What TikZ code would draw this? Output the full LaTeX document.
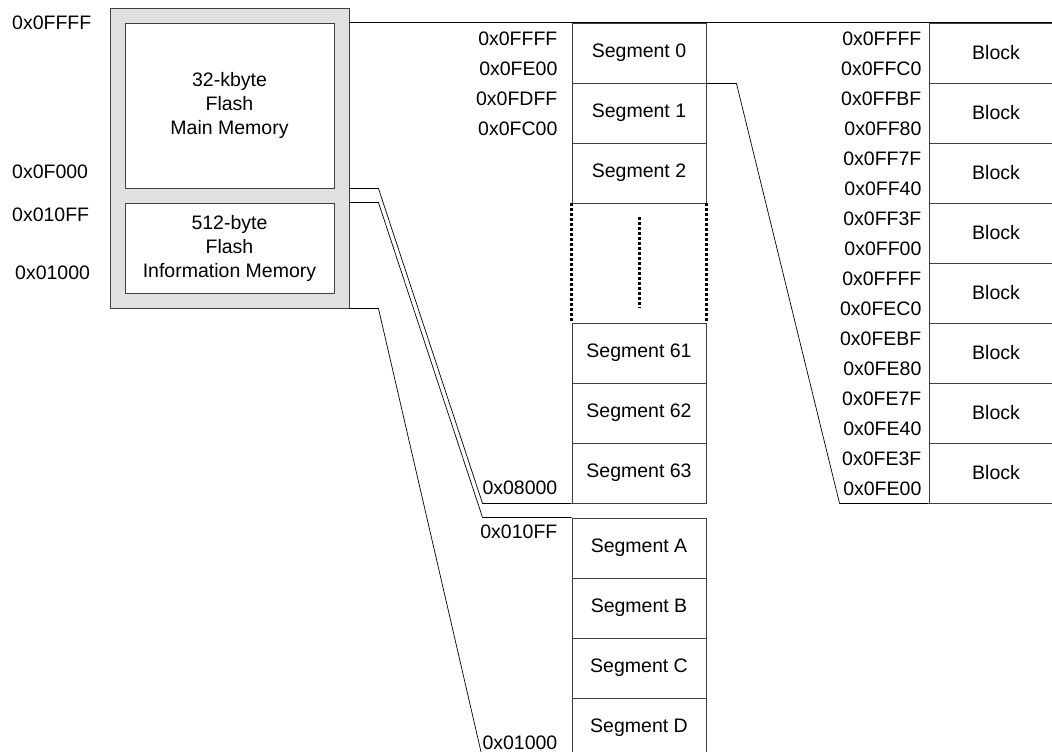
\documentclass[tikz,border=0pt]{standalone}
\usepackage{fontspec}
\setmainfont{Liberation Sans}
\usepackage{tikz}
\tikzset{
  memcell/.style={draw=black!75,line width=0.9pt,minimum width=134pt,minimum height=60pt,inner sep=0pt},
  flashbox/.style={draw=black!75,line width=0.9pt,inner sep=0pt,align=center},
  addr/.style={anchor=east,inner sep=0pt},
  link/.style={line width=0.7pt},
  gap/.style={line width=2.6pt,dash pattern=on 3pt off 2pt},
}

\begin{document}
\begin{tikzpicture}[x=1pt,y=-1pt,font=\fontsize{19.5}{24}\selectfont]
\useasboundingbox (0,0) rectangle (1052,752);
% flash overview on the left
\node[flashbox,fill=black!12,minimum width=239pt,minimum height=300pt] (flash) at (229.5,158) {};
\node[flashbox,fill=white,minimum width=209pt,minimum height=165pt] (main) at (229.5,105.5) {32-kbyte\\Flash\\Main Memory};
\node[flashbox,fill=white,minimum width=209pt,minimum height=90pt] (info) at (229.5,248) {512-byte\\Flash\\Information Memory};
\foreach \x/\y/\t in {12/23/0x0FFFF,12/172/0x0F000,12/215/0x010FF,15/273/0x01000}
  {\node[anchor=west,inner sep=0pt] at (\x,\y) {\t};}
% main memory segments
\foreach \n/\yc in {0/53,1/113,2/173,61/353,62/413,63/473}
  {\node[memcell] (seg\n) at (639,\yc) {Segment \n};}
\draw[gap] (seg2.south west) -- (seg61.north west) (seg2.south east) -- (seg61.north east);
\draw[gap,line width=3pt] (639,217) -- (639,308);
\node[addr] at ([xshift=-14pt,yshift=-16pt]seg0.north west) {0x0FFFF};
\node[addr] at ([xshift=-14pt,yshift=15pt]seg0.south west) {0x0FE00};
\node[addr] at ([xshift=-14pt,yshift=-16pt]seg1.north west) {0x0FDFF};
\node[addr] at ([xshift=-14pt,yshift=15pt]seg1.south west) {0x0FC00};
\node[addr] at ([xshift=-14pt,yshift=16pt]seg63.south west) {0x08000};
% information memory segments
\foreach \n/\yc in {A/548,B/608,C/668,D/728}
  {\node[memcell] (seg\n) at (639,\yc) {Segment \n};}
\node[addr] at ([xshift=-14pt,yshift=-14pt]segA.north west) {0x010FF};
\node[addr] at ([xshift=-14pt,yshift=16pt]segD.south west) {0x01000};
% blocks of segment 0
\foreach \i/\hi/\lo in {1/0FFFF/0FFC0,2/0FFBF/0FF80,3/0FF7F/0FF40,4/0FF3F/0FF00,5/0FFFF/0FEC0,6/0FEBF/0FE80,7/0FE7F/0FE40,8/0FE3F/0FE00}
  {\node[memcell] (blk\i) at (996,{-7+60*\i}) {Block};
   \node[addr] at ([xshift=-7pt,yshift=-16pt]blk\i.north west) {0x\hi};
   \node[addr] at ([xshift=-7pt,yshift=15pt]blk\i.south west) {0x\lo};}
% zoom lines
\draw[link] (flash.east |- main.north) -- (blk1.north east);
\draw[link] (flash.east |- main.south) -- ++(29,0) -- ([xshift=-89pt]seg63.south west) -- (seg63.south west);
\draw[link] (flash.east |- info.north) -- ++(29,0) -- ([xshift=-89pt]segA.north west) -- (segA.north west);
\draw[link] (flash.south east) -- ++(29,0) -- ([xshift=-89pt]segD.south west) -- (segD.south west);
\draw[link] (seg0.south east) -- ++(30,0) -- ([xshift=-89pt]blk8.south west) -- (blk8.south west);
\end{tikzpicture}
\end{document}
